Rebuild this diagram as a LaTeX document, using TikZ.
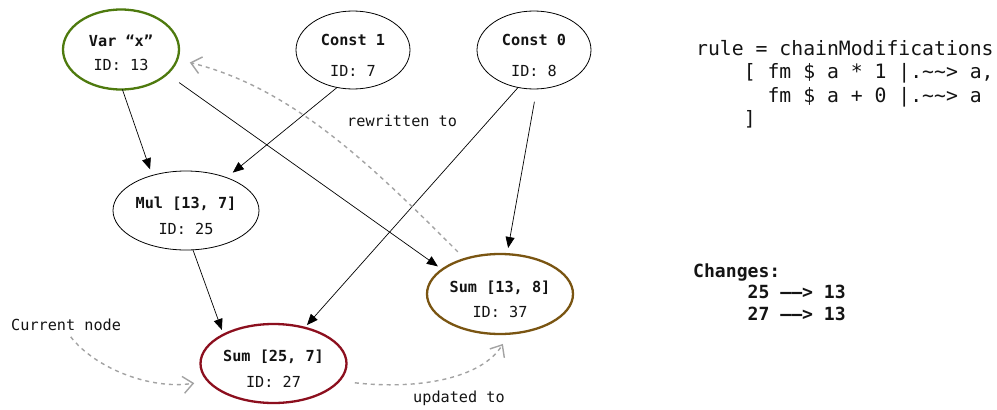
\documentclass[tikz,border=0pt]{standalone}
\usepackage{fontspec}
\setmonofont{DejaVu Sans Mono}
\usetikzlibrary{shapes.geometric,arrows.meta}

\definecolor{vargreen}{HTML}{4E7A0E}
\definecolor{curred}{HTML}{8C0F1E}
\definecolor{newbrown}{HTML}{7A5512}
\definecolor{hintgray}{HTML}{A3A3A3}
\definecolor{ink}{HTML}{141414}

% extra room above the first label line, so both lines sit a little low in the ring
\newcommand\toproom[1][22pt]{\rule{0pt}{#1}}

\begin{document}
\begin{tikzpicture}[x=1pt,y=-1pt,
  gnode/.style={ellipse, draw=black, line width=0.8pt, inner sep=0pt, outer sep=0pt,
    align=center, text=ink, font=\ttfamily\fontsize{15.2}{25.5}\selectfont},
  thick ring/.style={line width=2.3pt},
  link/.style={line width=0.7pt, -{Triangle[length=11pt,width=9pt]}},
  hint/.style={draw=hintgray, line width=1.4pt, dash pattern=on 4pt off 4pt,
    -{Straight Barb[length=10pt,width=17pt,line width=1.4pt]}},
  note/.style={inner sep=0pt, anchor=base west, text=ink, font=\ttfamily\fontsize{15.2}{25}\selectfont},
]
\useasboundingbox[fill=white] (0,0) rectangle (997,410);

% graph nodes
\node[gnode, thick ring, draw=vargreen, minimum width=116pt, minimum height=80pt] (varx) at (121,49.5)
  {\toproom[18pt]\textbf{Var “x”}\\[-2pt]ID: 13};
\node[gnode, minimum width=114pt, minimum height=78pt] (cone) at (353,50)
  {\toproom\textbf{Const 1}\\[5.5pt]ID: 7};
\node[gnode, minimum width=114pt, minimum height=78pt] (czero) at (534,50)
  {\toproom\textbf{Const 0}\\[5.5pt]ID: 8};
\node[gnode, minimum width=146pt, minimum height=79pt] (mul) at (186,210.5)
  {\toproom\textbf{Mul [13, 7]}\\ID: 25};
\node[gnode, thick ring, draw=newbrown, minimum width=146pt, minimum height=80pt] (s138) at (500,294)
  {\toproom\textbf{Sum [13, 8]}\\ID: 37};
\node[gnode, thick ring, draw=curred, minimum width=146pt, minimum height=79pt] (s257) at (273.5,363.5)
  {\toproom\textbf{Sum [25, 7]}\\ID: 27};

% dependency edges
\draw[link, shorten >=6.5pt] (varx.-88.6) -- (mul.134.6);
\draw[link, shorten >=8pt] (cone.247.7) -- (mul.39.5);
\draw[link, shorten <=15pt, shorten >=5.4pt] (varx.-28) -- (s138.157.8);
\draw[link, shorten >=3.6pt] (czero.247.7) -- (s257.49);
\draw[link, shorten <=13pt, shorten >=6.3pt] (czero.-86.6) -- (s138.80.2);
\draw[link, shorten >=5pt] (mul.-80) -- (s257.150);

% annotations
\node[note] (lblrw) at (347,126.5) {rewritten to};
\node[note] (lblcur) at (11,330.5) {Current node};
\node[note] (lblupd) at (413,402) {updated to};

\draw[hint, shorten <=10pt, shorten >=13pt] (s138.135) .. controls (373,167) and (293,88) .. (varx.-10);
\draw[hint, shorten <=7.5pt, shorten >=14pt] (lblcur.south) .. controls (95,368) and (150,390) .. (s257.195);
\draw[hint, shorten <=16pt, shorten >=12pt] (s257.-15) .. controls (420,390) and (482,378) .. (s138.-77);

% rewrite rule
\node[inner sep=0pt, anchor=north west, align=left, text=ink,
      font=\ttfamily\fontsize{19.76}{23.5}\selectfont] (rule) at (696,40)
  {rule = chainModifications\\
   \phantom{0000}[ fm \$ a * 1 |.\textasciitilde\textasciitilde> a,\\
   \phantom{000000}fm \$ a + 0 |.\textasciitilde\textasciitilde> a\\
   \phantom{0000}]};

% list of changes
\node[inner sep=0pt, anchor=north west, align=left, text=ink,
      font=\ttfamily\bfseries\fontsize{18.1}{21.5}\selectfont] (changes) at (693,263.5)
  {Changes:\\
   \phantom{00000}25 ——> 13\\
   \phantom{00000}27 ——> 13};
\end{tikzpicture}
\end{document}
